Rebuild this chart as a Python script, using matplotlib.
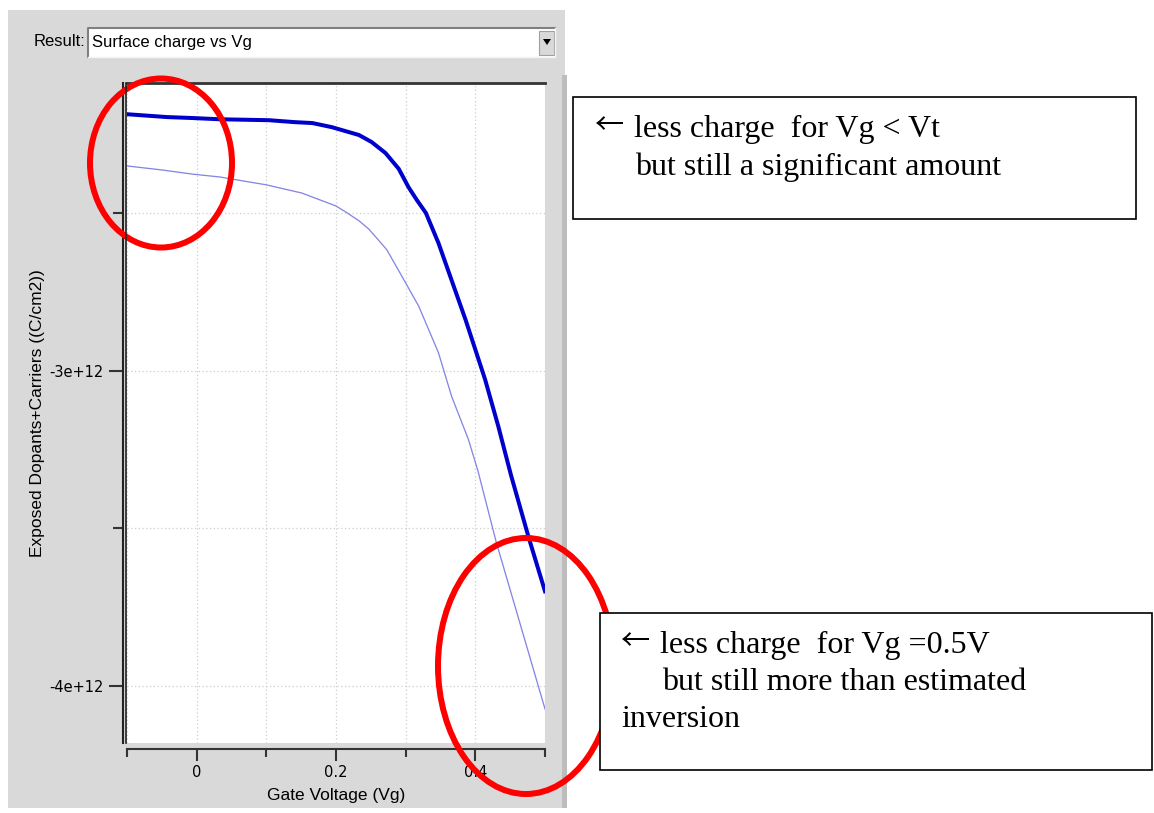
import matplotlib
matplotlib.use("Agg")
from matplotlib import pyplot as plt
from matplotlib.patches import Ellipse, Rectangle, Polygon
from matplotlib.ticker import FixedLocator, FuncFormatter
import numpy as np

# thick curve (dark blue)
vg_thick = [-0.100, -0.043, -0.007, 0.033, 0.104, 0.140, 0.166, 0.194, 0.233,
            0.251, 0.271, 0.290, 0.304, 0.316, 0.329, 0.347, 0.386, 0.414,
            0.433, 0.451, 0.476, 0.500]
q_thick = [-2.187e12, -2.196e12, -2.199e12, -2.203e12, -2.206e12, -2.212e12,
           -2.215e12, -2.228e12, -2.253e12, -2.275e12, -2.310e12, -2.360e12,
           -2.418e12, -2.459e12, -2.500e12, -2.595e12, -2.839e12, -3.028e12,
           -3.177e12, -3.330e12, -3.525e12, -3.700e12]

# thin curve (light blue)
vg_thin = [-0.100, -0.049, -0.006, 0.033, 0.100, 0.151, 0.200, 0.216, 0.233,
           0.247, 0.257, 0.273, 0.300, 0.319, 0.347, 0.366, 0.390, 0.404,
           0.430, 0.500]
q_thin = [-2.351e12, -2.364e12, -2.377e12, -2.386e12, -2.411e12, -2.437e12,
          -2.478e12, -2.500e12, -2.525e12, -2.551e12, -2.576e12, -2.617e12,
          -2.722e12, -2.797e12, -2.943e12, -3.082e12, -3.218e12, -3.320e12,
          -3.544e12, -4.073e12]

x_major = [0, 0.2, 0.4]
x_minor = [-0.1, 0.1, 0.3, 0.5]
y_major = [-3e12, -4e12]
y_minor = [-2.5e12, -3.5e12]

W, H = 1154, 813
SANS = ["Liberation Sans", "DejaVu Sans"]
SERIF = ["Liberation Serif", "DejaVu Serif"]
ARROW = ["Noto Sans CJK JP", "DejaVu Sans"]
PX = 72.0 / 100  # points per pixel

fig = plt.figure(figsize=(W / 100, H / 100), dpi=100)
fig.patch.set_facecolor("white")

def frac(x0, y0, x1, y1):
    # pixel box (top-left origin) -> figure fraction rect
    return [x0 / W, 1 - y1 / H, (x1 - x0) / W, (y1 - y0) / H]

# background panel (GUI look)
bg = fig.add_axes([0, 0, 1, 1], zorder=0)
bg.set_xlim(0, W)
bg.set_ylim(H, 0)
bg.axis("off")
bg.add_patch(Rectangle((8, 10), 557, 798, facecolor="#d9d9d9", edgecolor="none"))
bg.add_patch(Rectangle((562, 75), 5, 733, facecolor="#bdbdbd", edgecolor="none"))
# dropdown
bg.text(85, 42, "Result:", ha="right", va="center", fontsize=12, family=SANS)
bg.add_patch(Rectangle((88, 28), 467, 29, facecolor="white", edgecolor="none"))
bg.plot([88, 88, 555], [57, 28, 28], color="#808080", lw=1.5)
bg.plot([88, 555, 555], [57, 57, 28], color="#f4f4f4", lw=1.0)
bg.add_patch(Rectangle((539, 31), 15, 24, facecolor="#d9d9d9", edgecolor="#a0a0a0", lw=0.8))
bg.add_patch(Polygon([[543, 39], [551, 39], [547, 45]], closed=True, facecolor="black"))
bg.text(92, 42, "Surface charge vs Vg", ha="left", va="center", fontsize=12, family=SANS)

# plot area
ax = fig.add_axes(frac(127, 83, 545, 743), zorder=1)
ax.set_facecolor("white")
ax.plot(vg_thin, q_thin, color="#8585e6", lw=1.3 * PX)
ax.plot(vg_thick, q_thick, color="#0000cc", lw=4 * PX)
ax.set_xlim(-0.1, 0.5)
ax.set_ylim(-4.181e12, -2.088e12)

ax.xaxis.set_major_locator(FixedLocator(x_major))
ax.xaxis.set_minor_locator(FixedLocator(x_minor))
ax.yaxis.set_major_locator(FixedLocator(y_major))
ax.yaxis.set_minor_locator(FixedLocator(y_minor))
ax.xaxis.set_major_formatter(FuncFormatter(lambda v, p: "%g" % v))
ax.yaxis.set_major_formatter(FuncFormatter(lambda v, p: "%g" % v))
ax.tick_params(axis="x", which="major", length=12 * PX, width=1.5, pad=3, labelsize=10.5, color="#333333")
ax.tick_params(axis="x", which="minor", length=8 * PX, width=1.5, color="#333333")
ax.tick_params(axis="y", which="major", length=14 * PX, width=1.5, pad=4, labelsize=10.5, color="#333333")
ax.tick_params(axis="y", which="minor", length=10 * PX, width=1.5, color="#333333")
for lab in ax.get_xticklabels() + ax.get_yticklabels():
    lab.set_family(SANS)
ax.grid(True, which="both", linestyle=(0, (1, 2)), color="#cfcfcf", lw=0.9)

ax.spines["right"].set_visible(False)
ax.spines["top"].set_color("#333333")
ax.spines["top"].set_linewidth(2)
ax.spines["bottom"].set_position(("outward", 6 * PX))
ax.spines["bottom"].set_color("#333333")
ax.spines["bottom"].set_linewidth(1.5)
ax.spines["left"].set_position(("outward", 4 * PX))
ax.spines["left"].set_color("#222222")
ax.spines["left"].set_linewidth(1.5)

ax.set_xlabel("Gate Voltage (Vg)", fontsize=12.5, family=SANS, va="center")
ax.xaxis.set_label_coords(0.5, -0.079)
ax.set_ylabel("Exposed Dopants+Carriers ((C/cm2))", fontsize=12.5, family=SANS, va="center")
ax.yaxis.set_label_coords(-0.213, 0.5)

# annotations overlay
ov = fig.add_axes([0, 0, 1, 1], zorder=2)
ov.set_xlim(0, W)
ov.set_ylim(H, 0)
ov.axis("off")
ov.patch.set_alpha(0)
ov.plot([126, 126], [83, 743], color="#222222", lw=1.2)

ov.add_patch(Ellipse((161, 163), 142, 169, fill=False, edgecolor="#ff0000", lw=6 * PX))
ov.add_patch(Ellipse((526, 666), 176, 256, fill=False, edgecolor="#ff0000", lw=6 * PX))

ov.add_patch(Rectangle((573, 97), 563, 122, facecolor="white", edgecolor="black", lw=1.2))
ov.text(610, 126, "\u2190", ha="center", va="center", fontsize=21, family=ARROW)
ov.text(634, 137, "less charge  for Vg < Vt", ha="left", va="baseline", fontsize=23, family=SERIF)
ov.text(635, 175, "but still a significant amount", ha="left", va="baseline", fontsize=23, family=SERIF)

ov.add_patch(Rectangle((600, 613), 552, 157, facecolor="white", edgecolor="black", lw=1.2))
ov.text(636, 642, "\u2190", ha="center", va="center", fontsize=21, family=ARROW)
ov.text(660, 653, "less charge  for Vg =0.5V", ha="left", va="baseline", fontsize=23, family=SERIF)
ov.text(662, 690, "but still more than estimated", ha="left", va="baseline", fontsize=23, family=SERIF)
ov.text(621, 727, "inversion", ha="left", va="baseline", fontsize=23, family=SERIF)

fig.savefig("out.png", dpi=100)
